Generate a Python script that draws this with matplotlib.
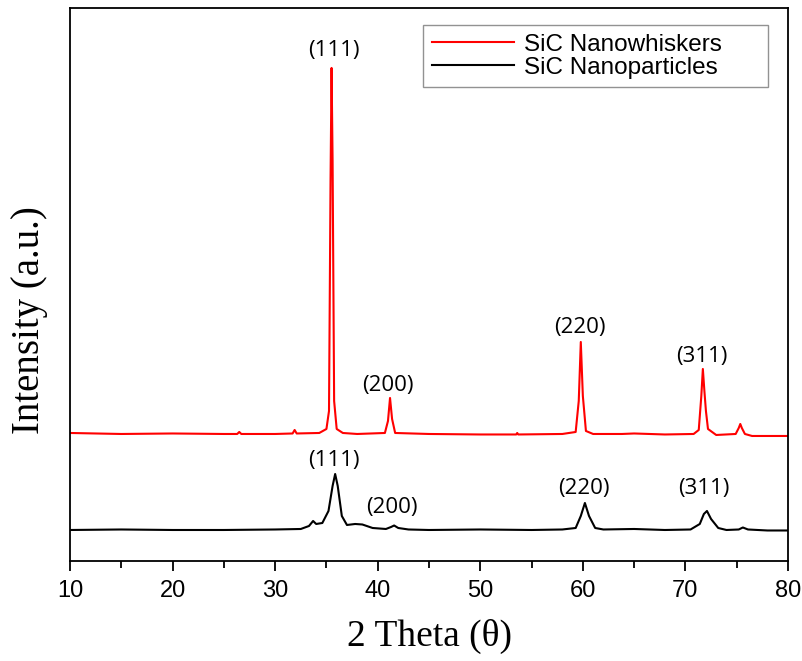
from matplotlib import pyplot as plt

# SiC nanowhiskers (red), intensity in arbitrary units
whisker2Theta = [10, 15, 20, 25, 26.3, 26.5, 26.7, 30, 31.7, 31.9, 32.1, 34.3, 35.0, 35.25,
                 35.4, 35.5, 35.6, 35.75, 36.0, 36.6, 38, 40.7, 41.0, 41.2, 41.4, 41.7, 45,
                 50, 53.5, 53.6, 53.7, 58, 59.3, 59.6, 59.8, 60.0, 60.3, 61, 63.8, 65, 68,
                 70.8, 71.3, 71.55, 71.7, 71.85, 72.0, 72.2, 73, 74.9, 75.2, 75.35, 75.5,
                 75.8, 76.5, 80]
whiskerInt = [128, 127, 127.5, 127, 127, 129, 127, 127, 127.5, 131, 127.5, 128, 132, 150,
              380, 493, 400, 160, 132, 128, 127, 128, 140, 163, 142, 128, 127,
              126.5, 126.5, 128, 126.5, 127, 129, 160, 219, 165, 130, 127, 127, 127.5, 126.5,
              127, 131, 165, 192, 170, 150, 132, 126, 127, 133, 137, 133,
              127, 125, 125]

# SiC nanoparticles (black)
particle2Theta = [10, 15, 20, 25, 30, 32.5, 33.3, 33.7, 34.0, 34.6, 35.2, 35.6, 35.85, 36.1,
                  36.5, 37.0, 37.8, 38.5, 39.5, 40.8, 41.3, 41.6, 42.0, 43, 45, 50, 55, 58,
                  59.3, 59.8, 60.2, 60.6, 61.2, 62, 65, 68, 70.5, 71.4, 71.8, 72.1, 72.5,
                  73.2, 74, 75.2, 75.6, 76.1, 78, 80]
particleInt = [31, 31.5, 31, 31, 31.5, 32, 35, 40, 37, 38, 50, 75, 87, 75,
               45, 36, 37, 36.5, 33, 32, 34, 35.5, 33, 31.5, 31, 31.5, 31, 31.5,
               33, 45, 58, 45, 33, 31.5, 32, 31, 31.5, 37, 47, 50, 42,
               33, 31, 31.5, 33.5, 31.5, 30.5, 30.5]

# peak labels
planes = ['(111)', '(200)', '(220)', '(311)']
whiskerLabelX = [35.7, 41.0, 59.7, 71.6]
whiskerLabelY = [510, 175, 233, 204]
particleLabelX = [35.7, 41.4, 60.1, 71.8]
particleLabelY = [100, 53, 72, 72]

fig = plt.figure(figsize=(8.03, 6.61), dpi=100)
ax = fig.add_axes([0.0872, 0.1513, 0.8941, 0.8367])

ax.plot(whisker2Theta, whiskerInt, color='red', linewidth=1.5, label='SiC Nanowhiskers')
ax.plot(particle2Theta, particleInt, color='black', linewidth=1.5, label='SiC Nanoparticles')

for name, x, y in zip(planes, whiskerLabelX, whiskerLabelY):
    ax.text(x, y, name, ha='center', va='center', fontsize=16, family='Open Sans')
for name, x, y in zip(planes, particleLabelX, particleLabelY):
    ax.text(x, y, name, ha='center', va='center', fontsize=16, family='Open Sans')

ax.set_xlim(10, 80)
ax.set_ylim(0, 553)
ax.set_xticks(range(10, 81, 10))
ax.set_xticks(range(15, 80, 10), minor=True)
ax.set_yticks([])
ax.tick_params(axis='x', which='major', direction='out', length=7, width=1.3,
               labelsize=17, pad=7)
ax.tick_params(axis='x', which='minor', direction='out', length=5, width=1.3)
for lab in ax.get_xticklabels():
    lab.set_family('Liberation Sans')
for sp in ax.spines.values():
    sp.set_linewidth(1.3)

ax.set_xlabel('2 Theta (θ)', family='Liberation Serif', fontsize=27, labelpad=12)
ax.set_ylabel('Intensity (a.u.)', family='Liberation Serif', fontsize=28)
ax.yaxis.set_label_coords(-0.031, 0.435)

leg = ax.legend(loc='upper left', bbox_to_anchor=(0.492, 0.854, 0.48, 0.115), mode='expand',
                borderaxespad=0, fancybox=False, handlelength=3.4, handletextpad=0.4,
                labelspacing=0.05, borderpad=0.35,
                prop={'family': 'Liberation Sans', 'size': 17.5})
leg.get_frame().set_edgecolor('#777777')
leg.get_frame().set_linewidth(1.0)

plt.savefig('out.png', dpi=100)
